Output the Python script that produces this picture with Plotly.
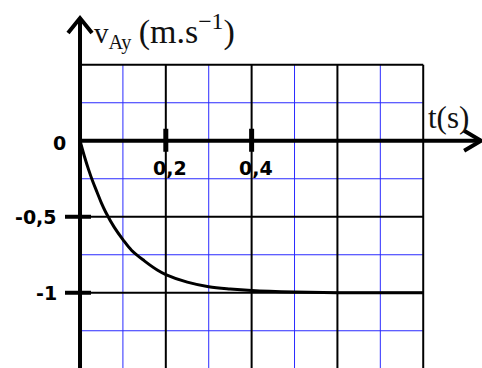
import plotly.graph_objects as go

# curve
t_vals = [0, 0.01, 0.02, 0.03, 0.04, 0.05, 0.06, 0.08, 0.10, 0.12, 0.15, 0.18, 0.20, 0.25, 0.30, 0.35, 0.40, 0.50, 0.60, 0.70, 0.80]
v_vals = [0, -0.10, -0.19, -0.27, -0.34, -0.41, -0.47, -0.57, -0.65, -0.72, -0.79, -0.85, -0.88, -0.93, -0.96, -0.975, -0.985, -0.995, -1.0, -1.0, -1.0]

# grid / tick positions
x_minor = [0.1, 0.3, 0.5, 0.7]
x_major = [0.2, 0.4, 0.6, 0.8]
y_minor = [0.25, -0.25, -0.75, -1.25]
y_major = [0.5, -0.5, -1.0]
x_ticks = [0.2, 0.4]
x_tick_labels = ["0,2", "0,4"]
y_ticks = [0, -0.5, -1.0]
y_tick_labels = ["0", "-0,5", "-1"]

X_RANGE = [-0.1865, 0.937]
Y_RANGE = [-1.495, 0.926]
PXX = 429.0   # px per unit t
PXY = 152.0   # px per unit v

fig = go.Figure()
fig.add_trace(go.Scatter(x=t_vals, y=v_vals, mode="lines", line=dict(color="black", width=3, shape="spline"),
                         hoverinfo="skip", showlegend=False))

shapes = []
for x in x_minor:
    shapes.append(dict(type="line", xref="x", yref="y", x0=x, x1=x, y0=Y_RANGE[0], y1=0.5,
                       line=dict(color="#2a2aff", width=1), layer="below"))
for y in y_minor:
    shapes.append(dict(type="line", xref="x", yref="y", x0=0, x1=0.8, y0=y, y1=y,
                       line=dict(color="#2a2aff", width=1), layer="below"))
for x in x_major:
    shapes.append(dict(type="line", xref="x", yref="y", x0=x, x1=x, y0=Y_RANGE[0], y1=0.5,
                       line=dict(color="black", width=2), layer="below"))
for y in y_major:
    shapes.append(dict(type="line", xref="x", yref="y", x0=0, x1=0.8, y0=y, y1=y,
                       line=dict(color="black", width=2), layer="below"))

# axes with arrows
x_tip = 0.935
y_tip = 0.807
shapes.append(dict(type="line", xref="x", yref="y", x0=0, x1=x_tip, y0=0, y1=0,
                   line=dict(color="black", width=4)))
shapes.append(dict(type="path", xref="x", yref="y",
                   path=f"M {x_tip-17/PXX},{10/PXY} L {x_tip},0 L {x_tip-17/PXX},{-10/PXY}",
                   line=dict(color="black", width=4)))
shapes.append(dict(type="line", xref="x", yref="y", x0=0, x1=0, y0=Y_RANGE[0], y1=y_tip,
                   line=dict(color="black", width=4)))
shapes.append(dict(type="path", xref="x", yref="y",
                   path=f"M {-12/PXX},{y_tip-15/PXY} L 0,{y_tip} L {12/PXX},{y_tip-15/PXY}",
                   line=dict(color="black", width=4)))
# tick marks
for x in x_ticks:
    shapes.append(dict(type="line", xref="x", yref="y", x0=x, x1=x, y0=12/PXY, y1=-11/PXY,
                       line=dict(color="black", width=5)))
for y in y_ticks[1:]:
    shapes.append(dict(type="line", xref="x", yref="y", x0=-15/PXX, x1=11/PXX, y0=y, y1=y,
                       line=dict(color="black", width=4)))

annotations = []
tick_font = dict(family="DejaVu Sans", size=19, color="black", weight="bold")
for x, lab in zip(x_ticks, x_tick_labels):
    annotations.append(dict(x=x + 4/PXX, y=-27/PXY, xref="x", yref="y", text=lab,
                            showarrow=False, font=tick_font, xanchor="center", yanchor="middle"))
for y, lab in zip(y_ticks, y_tick_labels):
    dx = -12 if y == 0 else -21
    dy = -2 if y == 0 else 0
    annotations.append(dict(x=dx/PXX, y=y + dy/PXY, xref="x", yref="y", text=lab,
                            showarrow=False, font=tick_font, xanchor="right", yanchor="middle"))

serif = dict(family="Liberation Serif", size=29, color="#111111")
annotations.append(dict(x=12/PXX, y=(140.7-31)/PXY, xref="x", yref="y",
                        text="v<sub>Ay</sub> <span style=\"font-size:34px\">(m.s<sup>\u22121</sup>)</span>",
                        showarrow=False, font=serif, xanchor="left", yanchor="middle"))
annotations.append(dict(x=(426-80)/PXX, y=(140.7-117)/PXY, xref="x", yref="y", text="t(s)",
                        showarrow=False, font=dict(family="Liberation Serif", size=31, color="#111111"),
                        xanchor="left", yanchor="middle"))

fig.update_layout(
    width=482, height=368, margin=dict(l=0, r=0, t=0, b=0),
    paper_bgcolor="white", plot_bgcolor="white",
    xaxis=dict(range=X_RANGE, showgrid=False, zeroline=False, showticklabels=False, showline=False, fixedrange=True),
    yaxis=dict(range=Y_RANGE, showgrid=False, zeroline=False, showticklabels=False, showline=False, fixedrange=True),
    shapes=shapes, annotations=annotations, showlegend=False,
)
fig.write_html("out.html", config={"displayModeBar": False},
               post_script="document.body.style.margin='0';document.body.style.overflow='hidden';")
